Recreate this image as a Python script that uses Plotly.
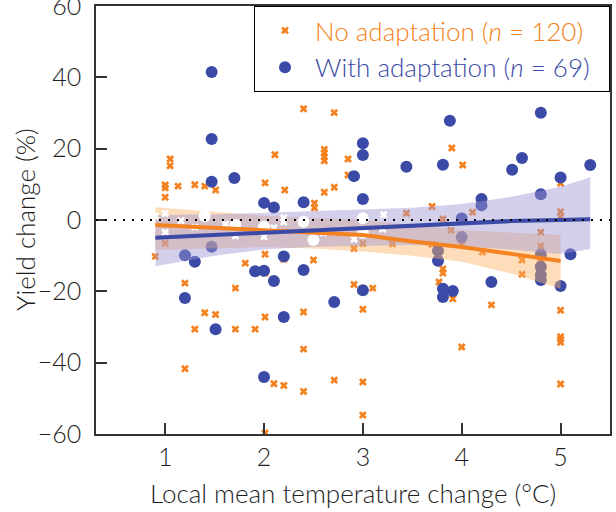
import plotly.graph_objects as go

# ---------------- data ----------------
# No adaptation (visible markers)
no_x = [1.05, 1.05, 1.0, 1.0, 1.0, 1.13, 1.30, 1.40, 1.51, 2.01, 2.11, 2.21, 2.40, 2.71,
        2.61, 2.61, 2.61, 2.61, 2.85, 2.85, 2.61, 2.71, 2.51, 2.51, 3.44, 3.70, 3.90, 4.01,
        3.81, 4.11, 3.89, 5.0, 5.0, 5.0, 4.8, 4.8, 3.7, 4.0, 3.0, 3.3, 2.91, 4.21, 4.61,
        4.61, 4.8, 3.81, 3.81, 3.77, 3.91, 4.30, 4.0, 2.91, 3.1, 3.0, 3.0, 3.0, 5.0, 5.0,
        5.0, 5.0, 5.0,
        1.0, 0.9, 2.01, 1.81, 2.01, 2.2, 2.5, 1.2, 1.71, 1.4, 1.51, 2.01, 2.40, 1.3, 1.71,
        1.91, 2.40, 1.2, 2.1, 2.2, 2.4, 2.71, 2.01]
no_y = [17.1, 15.2, 9.8, 9.0, 6.4, 9.5, 9.9, 9.5, 8.4, 10.4, 18.3, 8.4, 31.2, 30.1,
        19.8, 18.8, 17.7, 16.6, 17.1, 12.6, 7.8, 9.2, 4.7, 3.4, 1.9, 3.8, 20.2, 15.4,
        0.3, 2.2, -2.9, 10.3, 2.3, 0.9, -3.4, -7.3, -6.8, -6.8, -6.6, -6.7, -8.0, -9.0, -11.2,
        -15.2, -10.9, -13.7, -14.9, -17.4, -22.1, -23.8, -35.6, -18.1, -19.1, -25.0, -45.4, -54.7, -25.3, -32.7,
        -33.4, -34.3, -46.0,
        -6.5, -10.2, -9.6, -12.1, -14.9, -11.0, -11.2, -17.7, -19.1, -26.0, -26.5, -27.2, -25.8, -30.6, -30.6,
        -30.6, -36.2, -41.7, -45.9, -46.4, -48.1, -44.9, -59.7]
# No adaptation (markers inside the confidence band, shown white)
no_band_x = [0.9, 1.0, 1.0, 1.16, 1.3, 1.61, 1.71, 2.0, 2.1, 2.2, 2.2, 3.21, 3.2, 2.91, 2.6]
no_band_y = [1.1, 1.8, -3.4, -0.2, -2.0, -1.1, -4.5, -4.7, -2.2, -0.6, 0.6, 1.5, -2.5, -5.4, -3.6]

# With adaptation (visible markers)
wa_x = [1.47, 1.47, 1.47, 1.70, 2.00, 2.10, 1.47, 2.40, 2.91, 3.00, 3.00, 3.00, 3.44, 3.88,
        4.80, 3.81, 4.61, 4.51, 5.30, 5.00, 4.80, 4.20, 4.20, 4.00, 4.00, 3.76, 3.76, 5.10,
        4.80, 4.80, 4.80, 4.80, 5.00, 4.30, 3.81, 3.81, 3.91, 3.00, 1.20, 1.30, 1.20, 1.51,
        1.91, 2.00, 2.10, 2.20, 2.40, 2.20, 2.71, 2.00]
wa_y = [41.5, 22.7, 10.7, 11.8, 4.8, 3.5, -7.5, 5.0, 12.3, 21.5, 18.2, 5.9, 14.9, 27.8,
        30.1, 15.5, 17.4, 14.1, 15.4, 11.9, 7.2, 5.9, 4.1, 0.4, -4.8, -8.6, -11.4, -9.6,
        -9.7, -13.1, -15.4, -16.8, -18.5, -17.4, -19.3, -21.6, -19.9, -19.7, -9.9, -11.7, -21.9, -30.6,
        -14.4, -14.2, -17.1, -10.2, -14.0, -27.2, -23.0, -44.0]
# With adaptation (markers inside the confidence band, shown white)
wa_band_x = [1.40, 1.71, 2.00, 3.00, 2.50, 2.40, 3.00]
wa_band_y = [1.1, -1.4, -1.9, 0.5, -5.6, -0.5, -3.6]

# Fitted lines and confidence bands
no_grid = [0.9, 1.5, 2.0, 2.5, 3.0, 3.5, 4.0, 4.5, 5.0]
no_fit = [-1.4, -2.2, -3.0, -3.5, -4.2, -6.0, -7.6, -9.5, -11.5]
no_upper = [3.6, 2.4, 1.2, 0.6, 0.0, -1.5, -2.8, -3.5, -4.2]
no_lower = [-8.4, -8.0, -7.6, -8.0, -8.8, -10.0, -11.7, -15.0, -19.3]

wa_grid = [0.9, 1.5, 2.0, 2.5, 3.0, 3.5, 4.0, 4.5, 5.0, 5.3]
wa_fit = [-5.0, -4.2, -3.5, -2.8, -2.2, -1.5, -0.8, -0.3, 0.0, 0.2]
wa_upper = [1.4, 1.6, 2.0, 2.4, 2.8, 3.4, 4.5, 6.5, 9.3, 12.0]
wa_lower = [-13.0, -10.0, -8.3, -7.5, -7.2, -7.0, -7.3, -8.3, -9.5, -8.1]

x_ticks = [1, 2, 3, 4, 5]
y_ticks = [-60, -40, -20, 0, 20, 40, 60]

ORANGE = "#F58220"
BLUE = "#3A4AA6"
FAMILY = "Lato, 'Open Sans', sans-serif"
TXT = "#1e1e1e"

fig = go.Figure()

# coloured markers (drawn beneath the bands)
fig.add_trace(go.Scatter(
    x=no_x, y=no_y, mode="markers",
    name='<span style="color:%s">No adaptation (<i>n</i> = 120)</span>&nbsp;&nbsp;' % ORANGE,
    marker=dict(symbol="x", size=7, color=ORANGE, line=dict(width=0)),
))
fig.add_trace(go.Scatter(
    x=wa_x, y=wa_y, mode="markers",
    name='<span style="color:%s">With adaptation (<i>n</i> = 69)</span>&nbsp;&nbsp;' % BLUE,
    marker=dict(symbol="circle", size=12, color=BLUE, line=dict(width=0)),
))

# confidence bands
fig.add_trace(go.Scatter(
    x=no_grid + no_grid[::-1], y=no_upper + no_lower[::-1], fill="toself",
    fillcolor="rgba(250,179,102,0.45)", line=dict(width=0), mode="lines",
    showlegend=False, hoverinfo="skip",
))
fig.add_trace(go.Scatter(
    x=wa_grid + wa_grid[::-1], y=wa_upper + wa_lower[::-1], fill="toself",
    fillcolor="rgba(159,150,213,0.45)", line=dict(width=0), mode="lines",
    showlegend=False, hoverinfo="skip",
))

# markers inside bands (white)
fig.add_trace(go.Scatter(
    x=no_band_x, y=no_band_y, mode="markers", showlegend=False,
    marker=dict(symbol="x", size=7, color="white", line=dict(width=0)),
))
fig.add_trace(go.Scatter(
    x=wa_band_x, y=wa_band_y, mode="markers", showlegend=False,
    marker=dict(symbol="circle", size=12, color="white", line=dict(width=0)),
))

# fitted lines
fig.add_trace(go.Scatter(
    x=no_grid, y=no_fit, mode="lines", line=dict(color=ORANGE, width=4),
    showlegend=False, hoverinfo="skip",
))
fig.add_trace(go.Scatter(
    x=wa_grid, y=wa_fit, mode="lines", line=dict(color=BLUE, width=4),
    showlegend=False, hoverinfo="skip",
))

# zero reference line
fig.add_shape(type="line", xref="paper", x0=0, x1=1, yref="y", y0=0, y1=0,
              line=dict(color="black", width=2.2, dash="2px,7px"), layer="above")

# axis titles
fig.add_annotation(text="Local mean temperature change (°C)", xref="paper", yref="paper",
                   x=0.5, y=-0.138, xanchor="center", yanchor="middle", showarrow=False,
                   font=dict(family=FAMILY, size=26, color=TXT, weight=300))
fig.add_annotation(text="Yield change (%)", xref="paper", yref="paper",
                   x=-0.138, y=0.5, xanchor="center", yanchor="middle", showarrow=False,
                   textangle=-90,
                   font=dict(family=FAMILY, size=26, color=TXT, weight=300))

fig.update_layout(
    width=616, height=512,
    margin=dict(l=96, r=6, t=6, b=78),
    paper_bgcolor="white", plot_bgcolor="white",
    font=dict(family=FAMILY, size=25, color=TXT, weight=300),
    showlegend=True,
    legend=dict(
        x=1, y=1, xanchor="right", yanchor="top",
        bgcolor="white", bordercolor="black", borderwidth=1,
        font=dict(family=FAMILY, size=26, weight=300),
        tracegroupgap=0, itemwidth=50,
    ),
)
fig.update_xaxes(
    range=[0.3, 5.5], tickvals=x_ticks, ticktext=[str(v) for v in x_ticks],
    ticks="inside", ticklen=11, tickwidth=1.5, tickcolor="#333",
    showline=True, linecolor="#333", linewidth=1.5, mirror=True,
    showgrid=False, zeroline=False, automargin=False, ticklabeloverflow="allow",
)
fig.update_yaxes(
    range=[-60, 60], tickvals=y_ticks,
    ticktext=[("\u2212" + str(-v)) if v < 0 else str(v) for v in y_ticks],
    ticks="inside", ticklen=11, tickwidth=1.5, tickcolor="#333",
    showline=True, linecolor="#333", linewidth=1.5, mirror=True,
    showgrid=False, zeroline=False, automargin=False, ticklabeloverflow="allow",
    ticklabelstandoff=8,
)

fig.write_html("out.html", config={"displayModeBar": False},
               post_script="document.body.style.margin='0px';")
